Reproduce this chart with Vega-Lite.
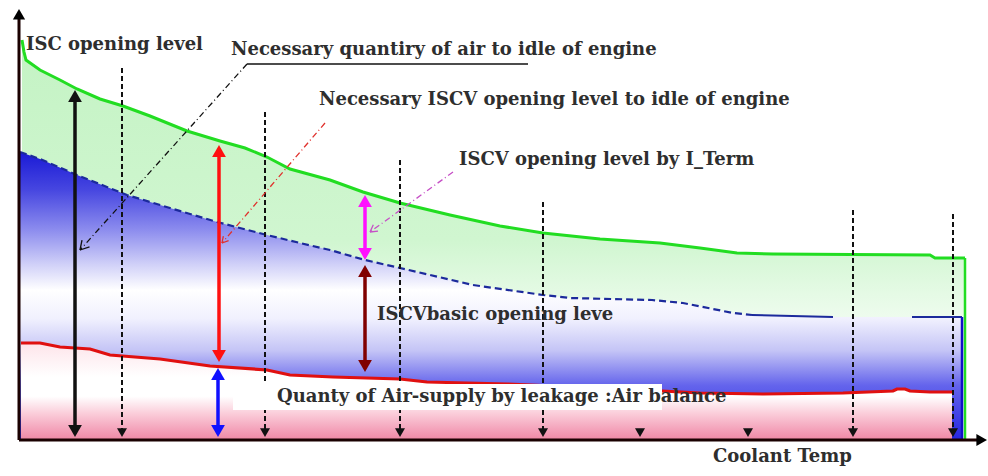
{
  "$schema": "https://vega.github.io/schema/vega-lite/v6.json",
  "width": 988,
  "height": 476,
  "autosize": {"type": "fit", "contains": "padding"},
  "padding": 0,
  "background": "#ffffff",
  "view": {"stroke": null},
  "config": {"text": {"font": "DejaVu Serif", "fontWeight": "bold", "fontSize": 18, "color": "#2e2e2e"}},
  "datasets": {
    "green": [
      {"t": 22, "v": 40}, {"t": 24, "v": 52}, {"t": 26, "v": 60}, {"t": 40, "v": 70}, {"t": 60, "v": 80},
      {"t": 77, "v": 89}, {"t": 100, "v": 99}, {"t": 123, "v": 106}, {"t": 150, "v": 116}, {"t": 187, "v": 131},
      {"t": 220, "v": 141}, {"t": 245, "v": 148}, {"t": 267, "v": 157}, {"t": 290, "v": 169}, {"t": 330, "v": 180},
      {"t": 363, "v": 192}, {"t": 400, "v": 203}, {"t": 450, "v": 215}, {"t": 500, "v": 226}, {"t": 543, "v": 233},
      {"t": 600, "v": 239}, {"t": 660, "v": 243}, {"t": 700, "v": 248}, {"t": 737, "v": 253}, {"t": 773, "v": 254},
      {"t": 930, "v": 255}, {"t": 935, "v": 258}, {"t": 965, "v": 258}
    ],
    "blueArea": [
      {"t": 20, "v": 152}, {"t": 40, "v": 159}, {"t": 77, "v": 175}, {"t": 127, "v": 195}, {"t": 170, "v": 208},
      {"t": 217, "v": 222}, {"t": 267, "v": 235}, {"t": 300, "v": 243}, {"t": 330, "v": 250}, {"t": 365, "v": 260},
      {"t": 400, "v": 268}, {"t": 473, "v": 285}, {"t": 543, "v": 295}, {"t": 570, "v": 298}, {"t": 652, "v": 300},
      {"t": 683, "v": 303}, {"t": 733, "v": 313}, {"t": 752, "v": 315}, {"t": 833, "v": 317}, {"t": 963, "v": 317}
    ],
    "blueDash": [
      {"t": 20, "v": 152}, {"t": 40, "v": 159}, {"t": 77, "v": 175}, {"t": 127, "v": 195}, {"t": 170, "v": 208},
      {"t": 217, "v": 222}, {"t": 267, "v": 235}, {"t": 300, "v": 243}, {"t": 330, "v": 250}, {"t": 365, "v": 260},
      {"t": 400, "v": 268}, {"t": 473, "v": 285}, {"t": 543, "v": 295}, {"t": 570, "v": 298}, {"t": 652, "v": 300},
      {"t": 683, "v": 303}, {"t": 733, "v": 313}, {"t": 752, "v": 315}
    ],
    "blueSolid": [
      {"seg": "a", "t": 752, "v": 315}, {"seg": "a", "t": 833, "v": 317},
      {"seg": "b", "t": 912, "v": 317}, {"seg": "b", "t": 962, "v": 317}
    ],
    "red": [
      {"t": 21, "v": 343}, {"t": 40, "v": 343}, {"t": 60, "v": 347}, {"t": 90, "v": 349}, {"t": 110, "v": 355},
      {"t": 160, "v": 359}, {"t": 210, "v": 366}, {"t": 267, "v": 370}, {"t": 290, "v": 375}, {"t": 333, "v": 377},
      {"t": 400, "v": 379}, {"t": 427, "v": 382}, {"t": 507, "v": 384}, {"t": 600, "v": 388}, {"t": 662, "v": 391},
      {"t": 700, "v": 393}, {"t": 763, "v": 394}, {"t": 843, "v": 393}, {"t": 893, "v": 391}, {"t": 897, "v": 389},
      {"t": 905, "v": 389}, {"t": 910, "v": 391}, {"t": 930, "v": 392}, {"t": 952, "v": 392}
    ],
    "ends": [
      {"series": "green", "t": 965, "v": 258, "v2": 440},
      {"series": "navy", "t": 962, "v": 317, "v2": 440}
    ],
    "guides": [
      {"t": 122, "v": 68, "v2": 432}, {"t": 265, "v": 112, "v2": 432}, {"t": 400, "v": 160, "v2": 432},
      {"t": 543, "v": 202, "v2": 432}, {"t": 853, "v": 210, "v2": 432}, {"t": 953, "v": 214, "v2": 432}
    ],
    "guideHeads": [
      {"t": 122, "v": 432.7}, {"t": 265, "v": 432.7}, {"t": 400, "v": 432.7}, {"t": 543, "v": 432.7},
      {"t": 640, "v": 432.7}, {"t": 748, "v": 432.7}, {"t": 853, "v": 432.7}, {"t": 953, "v": 432.7}
    ],
    "box": [{"t": 233, "t2": 662, "v": 384, "v2": 410}],
    "shafts": [
      {"series": "total", "t": 75, "v": 96, "v2": 431},
      {"series": "necessary", "t": 219, "v": 151, "v2": 356},
      {"series": "leakage", "t": 218, "v": 374, "v2": 431},
      {"series": "iterm", "t": 365, "v": 201, "v2": 254},
      {"series": "basic", "t": 365, "v": 271, "v2": 366}
    ],
    "heads": [
      {"series": "total", "dir": "up", "t": 75, "v": 96}, {"series": "total", "dir": "down", "t": 75, "v": 431},
      {"series": "necessary", "dir": "up", "t": 219, "v": 151}, {"series": "necessary", "dir": "down", "t": 219, "v": 356},
      {"series": "leakage", "dir": "up", "t": 218, "v": 374}, {"series": "leakage", "dir": "down", "t": 218, "v": 431},
      {"series": "iterm", "dir": "up", "t": 365, "v": 201}, {"series": "iterm", "dir": "down", "t": 365, "v": 254},
      {"series": "basic", "dir": "up", "t": 365, "v": 271}, {"series": "basic", "dir": "down", "t": 365, "v": 366}
    ],
    "leaders": [
      {"series": "note-total", "t": 247, "v": 64, "t2": 80, "v2": 250},
      {"series": "note-necessary", "t": 325, "v": 123, "t2": 222, "v2": 243},
      {"series": "note-iterm", "t": 453, "v": 172, "t2": 370, "v2": 232}
    ],
    "leaderTips": [
      {"series": "note-total", "t": 80, "v": 250, "t2": 89.5, "v2": 246.9},
      {"series": "note-total", "t": 80, "v": 250, "t2": 82, "v2": 240.2},
      {"series": "note-necessary", "t": 222, "v": 243, "t2": 228.6, "v2": 240.7},
      {"series": "note-necessary", "t": 222, "v": 243, "t2": 223.3, "v2": 236.1},
      {"series": "note-iterm", "t": 370, "v": 232, "t2": 378, "v2": 231.2},
      {"series": "note-iterm", "t": 370, "v": 232, "t2": 373.3, "v2": 224.7}
    ],
    "underline": [{"t": 247, "t2": 528, "v": 64}],
    "axes": [
      {"t": 19, "v": 440, "t2": 19, "v2": 18},
      {"t": 19, "v": 440, "t2": 980, "v2": 440}
    ],
    "axisHeads": [
      {"dir": "up", "t": 19, "v": 14.3},
      {"dir": "right", "t": 981.7, "v": 440}
    ],
    "labels": [
      {"t": 26, "v": 50, "text": "ISC opening level"},
      {"t": 231, "v": 55, "text": "Necessary quantiry of air to idle of engine"},
      {"t": 319, "v": 105, "text": "Necessary ISCV opening level to idle of engine"},
      {"t": 459, "v": 165, "text": "ISCV opening level by I_Term"},
      {"t": 377, "v": 320, "text": "ISCVbasic opening leve"},
      {"t": 277, "v": 402, "text": "Quanty of Air-supply by leakage :Air balance"},
      {"t": 713, "v": 462, "text": "Coolant Temp"}
    ]
  },
  "encoding": {
    "x": {"field": "t", "type": "quantitative", "axis": null, "scale": {"domain": [0, 988], "nice": false, "zero": false}},
    "y": {"field": "v", "type": "quantitative", "axis": null, "scale": {"domain": [0, 476], "nice": false, "zero": false, "reverse": true}}
  },
  "layer": [
    {
      "data": {"name": "green"},
      "mark": {"type": "area", "fill": {"gradient": "linear", "x1": 0, "y1": 0, "x2": 0, "y2": 1, "stops": [
        {"offset": 0, "color": "#c4f3c4"}, {"offset": 0.5, "color": "#d0f6d0"}, {"offset": 0.7, "color": "#effcef"}, {"offset": 1, "color": "#ffffff"}]}},
      "encoding": {"y2": {"datum": 440}}
    },
    {
      "data": {"name": "blueArea"},
      "mark": {"type": "area", "fill": {"gradient": "linear", "x1": 0, "y1": 0, "x2": 0, "y2": 1, "stops": [
        {"offset": 0, "color": "#1a1ad6"}, {"offset": 0.13, "color": "#4646e0"}, {"offset": 0.27, "color": "#8c8cee"},
        {"offset": 0.39, "color": "#d0d0f8"}, {"offset": 0.48, "color": "#ffffff"}, {"offset": 0.58, "color": "#f0f0fe"},
        {"offset": 0.69, "color": "#c4c4f6"}, {"offset": 0.81, "color": "#6464ec"}, {"offset": 1, "color": "#2626e0"}]}},
      "encoding": {"y2": {"datum": 440}}
    },
    {
      "data": {"name": "red"},
      "mark": {"type": "area", "fill": {"gradient": "linear", "x1": 0, "y1": 0, "x2": 0, "y2": 1, "stops": [
        {"offset": 0, "color": "#fde4ea"}, {"offset": 0.35, "color": "#ffffff"}, {"offset": 0.55, "color": "#ffffff"},
        {"offset": 0.72, "color": "#fbcfdb"}, {"offset": 0.86, "color": "#f5aac0"}, {"offset": 1, "color": "#ef88a4"}]}},
      "encoding": {"y2": {"datum": 440}}
    },
    {
      "data": {"name": "red"},
      "mark": {"type": "line", "stroke": "#e01010", "strokeWidth": 3.2}
    },
    {
      "data": {"name": "blueDash"},
      "mark": {"type": "line", "stroke": "#1c2a9c", "strokeWidth": 2.2, "strokeDash": [7, 4]}
    },
    {
      "data": {"name": "blueSolid"},
      "mark": {"type": "line", "stroke": "#1c2a9c", "strokeWidth": 2},
      "encoding": {"detail": {"field": "seg", "type": "nominal"}}
    },
    {
      "data": {"name": "green"},
      "mark": {"type": "line", "stroke": "#22dd22", "strokeWidth": 3}
    },
    {
      "data": {"name": "ends"},
      "mark": {"type": "rule", "strokeWidth": 2.5},
      "encoding": {
        "y2": {"field": "v2"},
        "stroke": {"field": "series", "type": "nominal", "legend": null, "scale": {"domain": ["total", "necessary", "leakage", "iterm", "basic", "green", "navy", "note-total", "note-necessary", "note-iterm"], "range": ["#111111", "#ff1010", "#1010ff", "#ff10ff", "#800000", "#22dd22", "#1010c8", "#111111", "#e0302c", "#c64fc6"]}}
      }
    },
    {
      "data": {"name": "guides"},
      "mark": {"type": "rule", "stroke": "#111111", "strokeWidth": 2, "strokeDash": [5, 3]},
      "encoding": {"y2": {"field": "v2"}}
    },
    {
      "data": {"name": "guideHeads"},
      "mark": {"type": "point", "shape": "triangle-down", "filled": true, "fill": "#111111", "size": 100, "opacity": 1, "strokeWidth": 0}
    },
    {
      "data": {"name": "box"},
      "mark": {"type": "rect", "fill": "#ffffff"},
      "encoding": {"x2": {"field": "t2"}, "y2": {"field": "v2"}}
    },
    {
      "data": {"name": "shafts"},
      "mark": {"type": "rule", "strokeWidth": 3.5},
      "encoding": {
        "y2": {"field": "v2"},
        "stroke": {"field": "series", "type": "nominal", "legend": null, "scale": {"domain": ["total", "necessary", "leakage", "iterm", "basic", "green", "navy", "note-total", "note-necessary", "note-iterm"], "range": ["#111111", "#ff1010", "#1010ff", "#ff10ff", "#800000", "#22dd22", "#1010c8", "#111111", "#e0302c", "#c64fc6"]}}
      }
    },
    {
      "data": {"name": "heads"},
      "mark": {"type": "point", "filled": true, "size": 190, "opacity": 1, "strokeWidth": 0},
      "encoding": {
        "fill": {"field": "series", "type": "nominal", "legend": null, "scale": {"domain": ["total", "necessary", "leakage", "iterm", "basic"], "range": ["#111111", "#ff1010", "#1010ff", "#ff10ff", "#800000"]}},
        "shape": {"field": "dir", "type": "nominal", "legend": null, "scale": {"domain": ["up", "down", "right"], "range": ["triangle-up", "triangle-down", "triangle-right"]}}
      }
    },
    {
      "data": {"name": "leaders"},
      "mark": {"type": "rule", "strokeWidth": 1.3, "strokeDash": [6, 3, 1, 3]},
      "encoding": {
        "x2": {"field": "t2"},
        "y2": {"field": "v2"},
        "stroke": {"field": "series", "type": "nominal", "legend": null, "scale": {"domain": ["total", "necessary", "leakage", "iterm", "basic", "green", "navy", "note-total", "note-necessary", "note-iterm"], "range": ["#111111", "#ff1010", "#1010ff", "#ff10ff", "#800000", "#22dd22", "#1010c8", "#111111", "#e0302c", "#c64fc6"]}}
      }
    },
    {
      "data": {"name": "leaderTips"},
      "mark": {"type": "rule", "strokeWidth": 1.3},
      "encoding": {
        "x2": {"field": "t2"},
        "y2": {"field": "v2"},
        "stroke": {"field": "series", "type": "nominal", "legend": null, "scale": {"domain": ["total", "necessary", "leakage", "iterm", "basic", "green", "navy", "note-total", "note-necessary", "note-iterm"], "range": ["#111111", "#ff1010", "#1010ff", "#ff10ff", "#800000", "#22dd22", "#1010c8", "#111111", "#e0302c", "#c64fc6"]}}
      }
    },
    {
      "data": {"name": "underline"},
      "mark": {"type": "rule", "stroke": "#111111", "strokeWidth": 1.6},
      "encoding": {"x2": {"field": "t2"}}
    },
    {
      "data": {"name": "axes"},
      "mark": {"type": "rule", "stroke": "#1a0000", "strokeWidth": 3},
      "encoding": {"x2": {"field": "t2"}, "y2": {"field": "v2"}}
    },
    {
      "data": {"name": "axisHeads"},
      "mark": {"type": "point", "filled": true, "size": 150, "opacity": 1, "strokeWidth": 0, "fill": "#000000"},
      "encoding": {
        "shape": {"field": "dir", "type": "nominal", "legend": null, "scale": {"domain": ["up", "down", "right"], "range": ["triangle-up", "triangle-down", "triangle-right"]}}
      }
    },
    {
      "data": {"name": "labels"},
      "mark": {"type": "text", "align": "left", "baseline": "alphabetic"},
      "encoding": {"text": {"field": "text", "type": "nominal"}}
    }
  ]
}
